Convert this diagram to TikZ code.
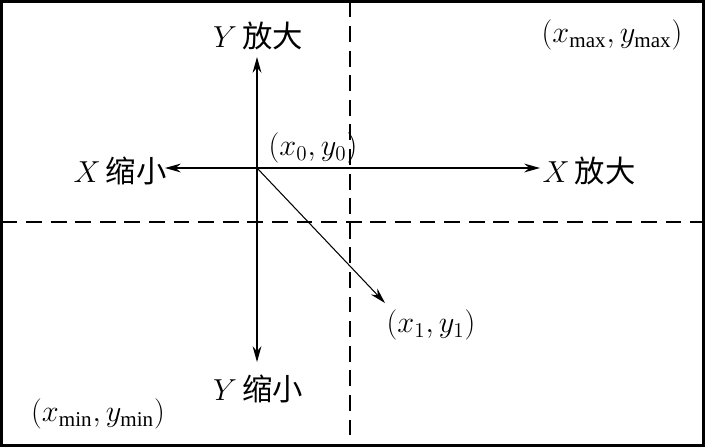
\documentclass[tikz,border=0pt]{standalone}
\usepackage{fontspec}
\setmainfont{Liberation Serif}
\newfontfamily\cjk{Noto Sans CJK SC}
\usetikzlibrary{arrows.meta}
\tikzset{>={Stealth[length=9pt,width=5pt]}}
\tikzset{lbl/.style={font=\LARGE,inner sep=1pt}}

\begin{document}
\begin{tikzpicture}[x=0.02cm,y=-0.02cm]
  \useasboundingbox (0,0) rectangle (705,447);
  \coordinate (O)  at (257,168);
  \coordinate (L)  at (165,168);
  \coordinate (R)  at (540,168);
  \coordinate (U)  at (257,57);
  \coordinate (D)  at (257,362);
  \coordinate (P1) at (385,303);

  % FRAME
  \draw[line width=1.6pt] (1.5,1.5) rectangle (703.5,445.5);
  \draw[dashed,line width=0.6pt,dash pattern=on 9pt off 5pt] (350,1.5) -- (350,445.5);
  \draw[dashed,line width=0.6pt,dash pattern=on 9pt off 5pt] (1.5,222) -- (703.5,222);

  % ARROWS
  \draw[->,line width=0.6pt] (O) -- (L);
  \draw[->,line width=0.6pt] (O) -- (R);
  \draw[->,line width=0.6pt] (O) -- (U);
  \draw[->,line width=0.6pt] (O) -- (D);
  \draw[->,line width=0.6pt] (O) -- (P1);

  % LABELS
  \node[lbl] (xs) at (120,171) {$X$\,{\cjk 缩小}};
  \node[lbl] (xb) at (589,171) {$X$\,{\cjk 放大}};
  \node[lbl] (yb) at (258,36) {$Y$\,{\cjk 放大}};
  \node[lbl] (ys) at (258,389) {$Y$\,{\cjk 缩小}};
  \node[lbl] (p0) at (313,148) {$(x_0,y_0)$};
  \node[lbl] (p1) at (431,325) {$(x_1,y_1)$};
  \node[lbl] (pmax) at (612,35) {$(x_{\max},y_{\max})$};
  \node[lbl] (pmin) at (98,414) {$(x_{\min},y_{\min})$};
\end{tikzpicture}
\end{document}
